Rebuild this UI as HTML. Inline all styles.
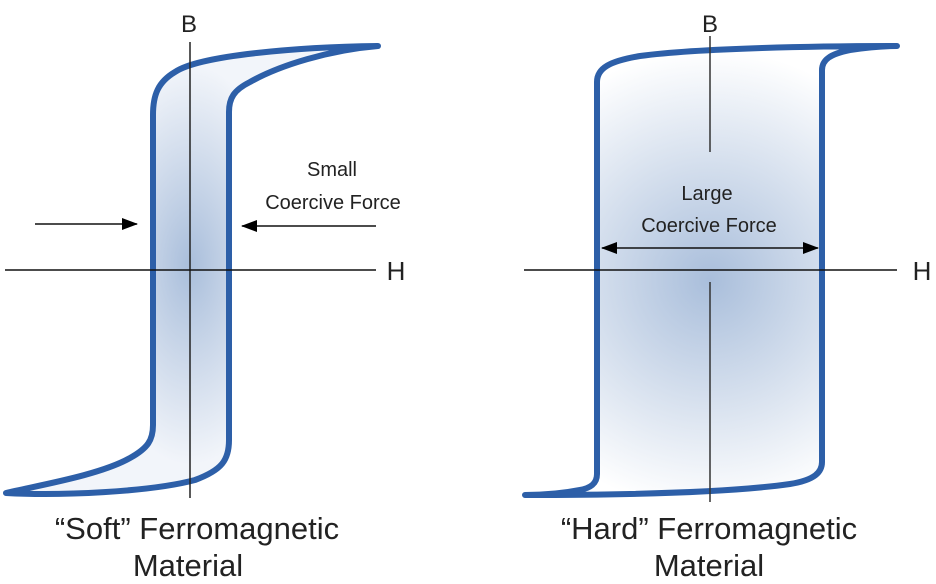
<!DOCTYPE html>
<html><head><style>body{margin:0;background:#fff}svg{display:block}</style></head><body>
<svg width="936" height="584" viewBox="0 0 936 584" xmlns="http://www.w3.org/2000/svg" font-family="Liberation Sans, sans-serif">
<defs>
<radialGradient id="g1" cx="190" cy="265" r="200" gradientUnits="userSpaceOnUse" gradientTransform="translate(190 265) scale(0.5 1) translate(-190 -265)">
<stop offset="0" stop-color="#a9bedb"/><stop offset="1" stop-color="#f2f5fa"/></radialGradient>
<radialGradient id="g2" cx="710" cy="280" r="230" gradientUnits="userSpaceOnUse">
<stop offset="0" stop-color="#a9bedb"/><stop offset="1" stop-color="#ffffff"/></radialGradient>
<marker id="ah" markerWidth="16" markerHeight="12" refX="15" refY="6" orient="auto" markerUnits="userSpaceOnUse"><path d="M0,0 L16,6 L0,12 Z" fill="#000"/></marker>
<marker id="as" markerWidth="16" markerHeight="12" refX="1" refY="6" orient="auto" markerUnits="userSpaceOnUse"><path d="M16,0 L0,6 L16,12 Z" fill="#000"/></marker>
</defs>
<path d="M378,46 C300,47 200,55 175,72 C158,82 153,95 153,115 L153,425 C153,440 148,448 130,458 C100,475 40,485 6,493 C60,496 150,492 195,480 C222,470 229,460 229,440 L229,112 C229,98 234,90 250,82 C280,65 330,50 378,46 Z" fill="url(#g1)" stroke="#2d5fa8" stroke-width="6" stroke-linejoin="round"/>
<line x1="190" y1="42" x2="190" y2="498" stroke="#222" stroke-width="1.5"/>
<line x1="5" y1="270" x2="376" y2="270" stroke="#111" stroke-width="1.5"/>
<line x1="35" y1="224" x2="137" y2="224" stroke="#111" stroke-width="1.5" marker-end="url(#ah)"/>
<line x1="376" y1="226" x2="242" y2="226" stroke="#111" stroke-width="1.5" marker-end="url(#ah)"/>
<path d="M897,46 C820,46 700,48 640,56 C610,61 597,68 597,82 L597,474 C597,484 590,488 580,490 C560,494 540,495 525,495 C600,495 720,494 790,484 C815,480 822,472 822,462 L822,70 C822,60 830,54 850,50 C870,47 885,46 897,46 Z" fill="url(#g2)" stroke="#2d5fa8" stroke-width="6" stroke-linejoin="round"/>
<line x1="710" y1="36" x2="710" y2="152" stroke="#333" stroke-width="1.5"/>
<line x1="710" y1="282" x2="710" y2="502" stroke="#333" stroke-width="1.5"/>
<line x1="524" y1="270" x2="897" y2="270" stroke="#111" stroke-width="1.5"/>
<line x1="602" y1="248" x2="818" y2="248" stroke="#111" stroke-width="1.5" marker-end="url(#ah)" marker-start="url(#as)"/>
<g fill="#222" text-anchor="middle">
<text x="189" y="32" font-size="24">B</text>
<text x="710" y="32" font-size="24">B</text>
<text x="396" y="280" font-size="26">H</text>
<text x="922" y="280" font-size="26">H</text>
<text x="332" y="176" font-size="20">Small</text>
<text x="333" y="209" font-size="20">Coercive Force</text>
<text x="707" y="200" font-size="20">Large</text>
<text x="709" y="232" font-size="20">Coercive Force</text>
<text x="197" y="539" font-size="31">“Soft” Ferromagnetic</text>
<text x="188" y="576" font-size="31">Material</text>
<text x="709" y="539" font-size="31">“Hard” Ferromagnetic</text>
<text x="709" y="576" font-size="31">Material</text>
</g>
</svg>
</body></html>
